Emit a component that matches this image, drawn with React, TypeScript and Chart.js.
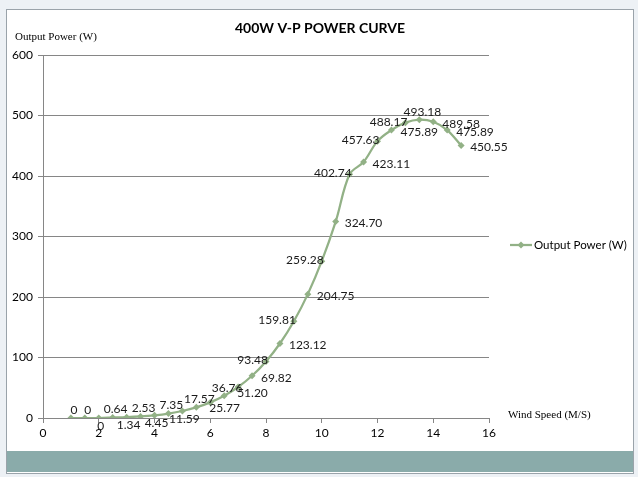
import React, { useEffect, useRef } from 'react';
import { Chart, registerables } from 'chart.js';

Chart.register(...registerables);

const windSpeed = [1, 1.5, 2, 2.5, 3, 3.5, 4, 4.5, 5, 5.5, 6, 6.5, 7, 7.5, 8, 8.5, 9, 9.5, 10, 10.5, 11, 11.5, 12, 12.5, 13, 13.5, 14, 14.5, 15];
const outputPower = [0, 0, 0, 0.64, 1.34, 2.53, 4.45, 7.35, 11.59, 17.57, 25.77, 36.76, 51.2, 69.82, 93.48, 123.12, 159.81, 204.75, 259.28, 324.7, 402.74, 423.11, 457.63, 475.89, 488.17, 493.18, 489.58, 475.89, 450.55];
const powerLabels = ['0', '0', '0', '0.64', '1.34', '2.53', '4.45', '7.35', '11.59', '17.57', '25.77', '36.76', '51.20', '69.82', '93.48', '123.12', '159.81', '204.75', '259.28', '324.70', '402.74', '423.11', '457.63', '475.89', '488.17', '493.18', '489.58', '475.89', '450.55'];
const labelPlacement = ['top', 'top', 'bottom', 'top', 'bottom', 'top', 'bottom', 'top', 'bottom', 'top', 'bottomright', 'top', 'bottomright', 'right', 'left', 'right', 'left', 'right', 'left', 'right', 'left', 'right', 'left', 'right', 'left', 'top', 'right', 'right', 'right'];
const xTicks = [0, 2, 4, 6, 8, 10, 12, 14, 16];
const yTicks = [0, 100, 200, 300, 400, 500, 600];

const chartTitle = '400W V-P POWER CURVE';
const yTitle = 'Output Power (W)';
const xTitle = 'Wind Speed (M/S)';
const seriesName = 'Output Power (W)';

const LINE = '#92b186';
const AXIS = '#868686';
const SANS = 'Lato, "Open Sans", sans-serif';
const SERIF = '"Liberation Serif", "DejaVu Serif", serif';

const decorPlugin = {
  id: 'decor',
  afterDatasetsDraw(chart: any) {
    const ctx = chart.ctx as CanvasRenderingContext2D;
    const meta = chart.getDatasetMeta(0);
    ctx.save();
    // data labels
    ctx.font = `12px ${SANS}`;
    ctx.fillStyle = '#1a1a1a';
    ctx.textBaseline = 'middle';
    meta.data.forEach((pt: any, i: number) => {
      const pos = labelPlacement[i];
      const t = powerLabels[i];
      let x = pt.x;
      let y = pt.y;
      if (pos === 'top') {
        ctx.textAlign = 'center';
        x += 3;
        y -= 8;
      } else if (pos === 'bottom') {
        ctx.textAlign = 'center';
        x += 2;
        y += 8;
      } else if (pos === 'bottomright') {
        ctx.textAlign = 'left';
        x -= 1;
        y += 6;
      } else if (pos === 'right') {
        ctx.textAlign = 'left';
        x += 9;
        y += 2;
      } else {
        ctx.textAlign = 'right';
        x += 2;
        y -= 1;
      }
      ctx.fillText(t, x, y);
    });

    // title
    ctx.font = `bold 14px ${SANS}`;
    ctx.fillStyle = '#000';
    ctx.textAlign = 'center';
    ctx.textBaseline = 'middle';
    ctx.fillText(chartTitle, 320, 28);

    // axis titles
    ctx.font = `11px ${SERIF}`;
    ctx.textAlign = 'left';
    ctx.fillText(yTitle, 15, 37);
    ctx.fillText(xTitle, 508, 415);

    // legend
    const ly = 245;
    ctx.strokeStyle = LINE;
    ctx.lineWidth = 2.25;
    ctx.beginPath();
    ctx.moveTo(510, ly);
    ctx.lineTo(532, ly);
    ctx.stroke();
    ctx.fillStyle = LINE;
    ctx.beginPath();
    ctx.moveTo(521, ly - 3.5);
    ctx.lineTo(524.5, ly);
    ctx.lineTo(521, ly + 3.5);
    ctx.lineTo(517.5, ly);
    ctx.closePath();
    ctx.fill();
    ctx.fillStyle = '#000';
    ctx.font = `11.5px ${SANS}`;
    ctx.textAlign = 'left';
    ctx.fillText(seriesName, 534, ly);
    ctx.restore();
  },
};

export default function App() {
  const ref = useRef<HTMLCanvasElement | null>(null);
  useEffect(() => {
    if (!ref.current) return;
    const chart = new Chart(ref.current, {
      type: 'line',
      data: {
        datasets: [
          {
            label: seriesName,
            data: windSpeed.map((x, i) => ({ x, y: outputPower[i] })),
            borderColor: LINE,
            backgroundColor: LINE,
            borderWidth: 2.25,
            pointStyle: 'rectRot',
            pointRadius: 3.5,
            pointBorderWidth: 0,
            tension: 0.35,
            fill: false,
          },
        ],
      },
      options: {
        animation: false,
        responsive: false,
        devicePixelRatio: 1,
        layout: { padding: { left: 0, top: 55, right: 149, bottom: 30 } },
        plugins: { legend: { display: false }, title: { display: false }, tooltip: { enabled: false } },
        scales: {
          x: {
            type: 'linear',
            min: 0,
            max: 16,
            afterFit: (s: any) => { s.height = 29; },
            afterBuildTicks: (s: any) => { s.ticks = xTicks.map((v) => ({ value: v })); },
            ticks: { font: { family: SANS, size: 12 }, color: '#000', padding: 3, maxRotation: 0 },
            grid: { drawOnChartArea: false, drawTicks: true, tickLength: 5, color: AXIS },
            border: { display: true, color: AXIS },
          },
          y: {
            type: 'linear',
            min: 0,
            max: 600,
            afterFit: (s: any) => { s.width = 43; },
            afterBuildTicks: (s: any) => { s.ticks = yTicks.map((v) => ({ value: v })); },
            ticks: { font: { family: SANS, size: 12 }, color: '#000', padding: 5 },
            grid: { color: AXIS, tickLength: 5 },
            border: { display: true, color: AXIS },
          },
        },
      },
      plugins: [decorPlugin],
    } as any);
    return () => chart.destroy();
  }, []);

  return (
    <div style={{ position: 'absolute', left: 0, top: 0, width: 638, height: 477, background: '#edf1f5' }}>
      <div
        style={{
          position: 'absolute',
          left: 6,
          top: 9,
          width: 626,
          height: 463,
          border: '1px solid #9aa3aa',
          background: '#fff',
        }}
      />
      <div style={{ position: 'absolute', left: 7, top: 451, width: 626, height: 21, background: '#8aabaa' }} />
      <canvas ref={ref} width={638} height={477} style={{ position: 'absolute', left: 0, top: 0 }} />
    </div>
  );
}
